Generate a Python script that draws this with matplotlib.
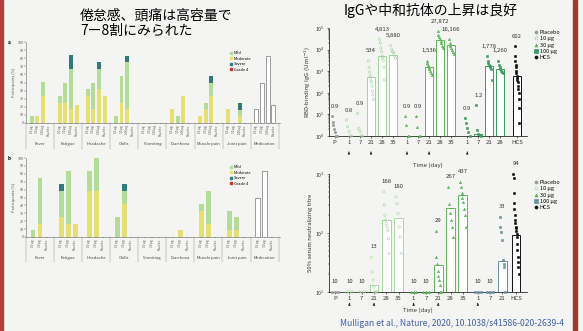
import numpy as np
import matplotlib
matplotlib.use('Agg')
import matplotlib.pyplot as plt
from matplotlib.lines import Line2D

plt.rcParams['font.family'] = ['Noto Sans CJK JP', 'DejaVu Sans']

# ---- data: reactogenicity (percent of participants) ----
groups = ['Fever', 'Fatigue', 'Headache', 'Chills', 'Vomiting', 'Diarrhoea',
          'Muscle pain', 'Joint pain', 'Medication']
doses_a = ['10 µg', '30 µg', '100 µg', 'Placebo']
doses_b = ['10 µg', '30 µg', 'Placebo']

# panel a (after dose 1), 4 bars per group, symptoms only (first 8 groups)
a_moderate = [0, 8.3, 33.3, 0,  25, 25, 16.7, 22.2,  33.3, 16.7, 41.7, 33.3,  0, 25, 16.7, 0,
              0, 0, 0, 0,  16.7, 0, 33.3, 0,  8.3, 16.7, 33.3, 0,  16.7, 0, 8.3, 0]
a_mild = [8.3, 0, 16.7, 0,  8.3, 25, 50, 0,  8.3, 33.3, 25, 0,  8.3, 33.3, 58.3, 0,
          0, 0, 0, 0,  0, 8.3, 0, 0,  0, 8.3, 16.7, 0,  0, 0, 8.3, 0]
a_severe = [0, 0, 0, 0,  0, 0, 16.7, 0,  0, 0, 8.3, 0,  0, 0, 8.3, 0,
            0, 0, 0, 0,  0, 0, 0, 0,  0, 0, 8.3, 0,  0, 0, 8.3, 0]
a_medication = [16.7, 50, 83.3, 22.2]

# panel b (after dose 2), 3 bars per group
b_moderate = [0, 16.7, 0,  25, 16.7, 16.7,  58.3, 58.3, 0,  0, 41.7, 0,
              0, 0, 0,  0, 8.3, 0,  33.3, 16.7, 0,  8.3, 8.3, 0]
b_mild = [8.3, 58.3, 0,  33.3, 66.7, 0,  25, 41.7, 0,  25, 16.7, 0,
          0, 0, 0,  0, 0, 0,  8.3, 41.7, 0,  25, 16.7, 0]
b_severe = [0, 0, 0,  8.3, 0, 0,  0, 0, 0,  0, 8.3, 0,
            0, 0, 0,  0, 0, 0,  0, 0, 0,  0, 0, 0]
b_medication = [50, 83.3, 0]

# ---- data: antibody responses ----
igg_days = [['P'], ['1', '7', '21', '28', '35'], ['1', '7', '21', '28', '35'],
            ['1', '7', '21', '28'], ['HCS']]
igg_gmt = [[0.9], [0.8, 0.9, 534, 4813, 5880], [0.9, 0.9, 1536, 27872, 16166],
           [0.9, 1.2, 1778, 1260], [602]]
igg_labels = [['0.9'], ['0.8', '0.9', '534', '4,813', '5,880'],
              ['0.9', '0.9', '1,536', '27,872', '16,166'],
              ['0.9', '1.2', '1,778', '1,260'], ['602']]
igg_points = [
    [[8, 4.6, 3.2, 2.2, 1.6, 1, 1, 1]],
    [[5.5, 2.7, 1.6, 1, 1], [11, 2.2, 1.6, 1, 1],
     [3000, 1500, 900, 600, 400, 300, 200, 120, 80, 50],
     [30000, 20000, 12000, 8000, 5000, 4000, 3000, 1500, 400],
     [15000, 10000, 8000, 7000, 5000, 4000]],
    [[8, 3.2, 1, 1], [8, 2.7, 1, 1],
     [3000, 2500, 2000, 1500, 1200, 1000, 800, 700],
     [70000, 50000, 40000, 30000, 25000, 20000, 15000, 12000],
     [30000, 20000, 15000, 12000, 10000, 8000, 6000]],
    [[6.6, 3.9, 2.3, 1.6, 1], [27, 1.9, 1.3, 1.1, 1],
     [5000, 3000, 2500, 2000, 1800, 1500, 1200, 400],
     [3000, 2000, 1500, 1200, 1000, 900, 800]],
    [[14000, 5000, 3000, 2000, 1500, 1000, 800, 600, 500, 400, 300, 200,
      150, 100, 50, 20, 4]],
]

nt_days = [['P'], ['1', '7', '21', '28', '35'], ['1', '7', '21', '28', '35'],
           ['1', '7', '21'], ['HCS']]
nt_gmt = [[10], [10, 10, 13, 168, 180], [10, 10, 29, 267, 437], [10, 10, 33], [94]]
nt_labels = [['10'], ['10', '10', '13', '168', '180'], ['10', '10', '29', '267', '437'],
             ['10', '10', '33'], ['94']]
nt_points = [
    [[10, 10, 10]],
    [[10, 10, 10], [10, 10, 10], [39, 22, 16, 12, 10, 10, 10],
     [500, 300, 200, 165, 145, 127, 110, 80, 45],
     [410, 315, 215, 127, 86, 45]],
    [[10, 10, 10], [10, 10, 10], [110, 39, 30, 23, 19, 16, 13, 10, 10],
     [600, 315, 215, 165, 127, 86],
     [740, 600, 470, 385, 340, 260, 200, 127]],
    [[10, 10, 10], [10, 10, 10], [190, 127, 105, 75, 35, 30, 27, 10]],
    [[1000, 850, 470, 320, 260, 200, 165, 145, 127, 120, 110, 98, 86, 66,
      51, 39, 32, 27, 20]],
]

W, H = 583, 331
fig = plt.figure(figsize=(W / 100, H / 100), dpi=100, facecolor='#f4f4f2')


def box(x0, y0, x1, y1):
    return [x0 / W, 1 - y1 / H, (x1 - x0) / W, (y1 - y0) / H]


# slide decorations
fig.patches.append(plt.Rectangle((0, 0), 3 / W, 1, transform=fig.transFigure,
                                 color='#b0413a', zorder=0))
fig.patches.append(plt.Rectangle((573 / W, 0), 4 / W, 1, transform=fig.transFigure,
                                 color='#9c3b30', zorder=0))
fig.text(80 / W, 1 - 16 / H, '倦怠感、頭痛は高容量で', fontsize=10, va='center')
fig.text(80 / W, 1 - 31 / H, '7ー8割にみられた', fontsize=10, va='center')
fig.text(344 / W, 1 - 10 / H, 'IgGや中和抗体の上昇は良好', fontsize=10, va='center')
fig.text(340 / W, 1 - 323 / H, 'Mulligan et al., Nature, 2020, 10.1038/s41586-020-2639-4',
         fontsize=6.2, color='#4262a6', va='center')

c_mod, c_mild, c_sev, c_g4 = '#e6df74', '#b3dc98', '#2f7b7c', '#c0392b'


def bar_panel(rect, nd, moderate, mild, severe, medication, doses, letter, legend_y):
    ax = fig.add_axes(rect)
    ax.set_facecolor('none')
    step = nd + 1
    xs, xlab = [], []
    for g in range(len(groups)):
        for k in range(nd):
            xs.append(g * step + k)
            xlab.append(doses[k])
    xs = np.array(xs)
    ns = (len(groups) - 1) * nd
    xsym = xs[:ns]
    mod = np.array(moderate)
    mil = np.array(mild)
    sev = np.array(severe)
    ax.bar(xsym, mod, width=0.7, color=c_mod, lw=0)
    ax.bar(xsym, mil, bottom=mod, width=0.7, color=c_mild, lw=0)
    ax.bar(xsym, sev, bottom=mod + mil, width=0.7, color=c_sev, lw=0)
    ax.bar(xs[ns:], medication, width=0.7, facecolor='white', edgecolor='#777', lw=0.5)
    ax.set_ylim(0, 100)
    ax.set_xlim(-1, xs[-1] + 1.2)
    ax.set_yticks(range(0, 101, 10))
    ax.tick_params(axis='y', labelsize=2.6, length=1.2, width=0.3, pad=0.5, colors='#555')
    ax.set_xticks(xs)
    ax.set_xticklabels(xlab, rotation=90, fontsize=2.2, color='#555')
    ax.tick_params(axis='x', length=1, width=0.3, pad=0.5)
    for s in ['top', 'right']:
        ax.spines[s].set_visible(False)
    for s in ['left', 'bottom']:
        ax.spines[s].set_linewidth(0.4)
        ax.spines[s].set_color('#666')
    ax.set_ylabel('Participants (%)', fontsize=2.8, labelpad=1, color='#555')
    for g, name in enumerate(groups):
        ax.text(g * step + (nd - 1) / 2, -0.26, name, transform=ax.get_xaxis_transform(),
                ha='center', va='center', fontsize=3, color='#444')
        xl = g * step - 1
        ax.plot([xl, xl], [0, -0.32], transform=ax.get_xaxis_transform(), color='#888',
                lw=0.3, clip_on=False)
    xl = len(groups) * step - 1
    ax.plot([xl, xl], [0, -0.32], transform=ax.get_xaxis_transform(), color='#888',
            lw=0.3, clip_on=False)
    ax.text(-0.06, 1.0, letter, transform=ax.transAxes, fontsize=3.5, fontweight='bold',
            ha='right', va='center')
    handles = [Line2D([], [], marker='s', ls='', color=c, markersize=1.6)
               for c in [c_mild, c_mod, c_sev, c_g4]]
    fig.legend(handles, ['Mild', 'Moderate', 'Severe', 'Grade 4'],
               loc='upper left', bbox_to_anchor=(228 / W, 1 - legend_y / H),
               fontsize=2.8, frameon=False, handlelength=0.6, handletextpad=0.4,
               labelspacing=0.4, borderpad=0)
    return ax


bar_panel(box(26, 42, 280, 123), 4, a_moderate, a_mild, a_severe, a_medication,
          doses_a, 'a', 49)
bar_panel(box(26, 158, 280, 237), 3, b_moderate, b_mild, b_severe, b_medication,
          doses_b, 'b', 163)

col_top = ['#9a9a9a', '#9fd49a', '#5dba5a', '#3c9a5e', '#111111']
col_bot = ['#9a9a9a', '#a8d8a2', '#5dba5a', '#6a8fa0', '#111111']
markers = ['o', 'o', '^', 's', 'o']
ser_names = ['Placebo', '10 µg', '30 µg', '100 µg', 'HCS']


def ab_panel(rect, days, gmt, labels, points, starts, lo, hi, cols, ylabel, fac,
             legend_y, arrows_y, time_y, time_x):
    ax = fig.add_axes(rect)
    ax.set_facecolor('none')
    ax.set_yscale('log')
    xt, xl = [], []
    arrows = []
    for gi in range(len(days)):
        c = cols[gi]
        for k in range(len(days[gi])):
            x = starts[gi] + k
            xt.append(x)
            xl.append(days[gi][k])
            v = gmt[gi][k]
            if v > lo:
                ax.bar(x, v - lo, bottom=lo, width=0.72, facecolor='white',
                       edgecolor=c, lw=0.7, zorder=1)
            pts = np.array(points[gi][k])
            n = len(pts)
            jit = np.linspace(-0.22, 0.22, n) if n > 1 else np.zeros(1)
            face = 'none' if gi == 1 else c
            ax.scatter(x + jit, pts, s=3, marker=markers[gi], facecolors=face,
                       edgecolors=c, linewidths=0.4, zorder=3, clip_on=False)
            ax.text(x, max(pts.max(), v) * fac, labels[gi][k], ha='center',
                    va='bottom', fontsize=4.3, color='#333', clip_on=False)
            if gi in (1, 2) and days[gi][k] in ('1', '21'):
                arrows.append(x)
            if gi == 3 and days[gi][k] == '1':
                arrows.append(x)
    ax.set_ylim(lo, hi)
    ax.set_xlim(-0.5, starts[-1] + 0.9)
    ax.set_xticks(xt)
    ax.set_xticklabels(xl, fontsize=4.3, color='#333')
    ax.tick_params(axis='x', length=1.5, width=0.4, pad=1.2)
    ax.tick_params(axis='y', which='major', labelsize=3.8, length=1.8, width=0.4,
                   pad=1, colors='#333')
    ax.tick_params(axis='y', which='minor', length=1, width=0.3)
    for s in ['top', 'right']:
        ax.spines[s].set_visible(False)
    for s in ['left', 'bottom']:
        ax.spines[s].set_linewidth(0.5)
        ax.spines[s].set_linestyle((0, (2, 1)))
    ax.set_ylabel(ylabel, fontsize=4.3, labelpad=2, color='#333')
    for x in arrows:
        ax.annotate('', xy=(x, arrows_y), xytext=(x, arrows_y - 0.055),
                    xycoords=ax.get_xaxis_transform(),
                    arrowprops=dict(arrowstyle='-|>', lw=0.5, color='#222',
                                    mutation_scale=3))
    ax.text(time_x, time_y, 'Time (day)', transform=ax.transAxes, fontsize=4.3,
            ha='center', va='center', color='#333')
    handles = []
    for i in range(5):
        face = 'none' if i == 1 else cols[i]
        handles.append(Line2D([], [], marker=markers[i], ls='',
                              markerfacecolor=face, markeredgecolor=cols[i],
                              markersize=2.2, markeredgewidth=0.5))
    fig.legend(handles, ser_names, loc='upper left', bbox_to_anchor=(532 / W, 1 - legend_y / H),
               fontsize=4, frameon=False, handlelength=0.5, handletextpad=0.4,
               labelspacing=0.25, borderpad=0)
    return ax


ab_panel(box(329, 28, 527, 136), igg_days, igg_gmt, igg_labels, igg_points,
         [0, 1.3, 6.55, 12.0, 16.5], 1, 1e5, col_top,
         'RBD-binding IgG (U ml$^{-1}$)', 2.2, 27, -0.12, -0.27, 0.5)
ab_panel(box(329, 174, 527, 292), nt_days, nt_gmt, nt_labels, nt_points,
         [0, 1.16, 6.38, 11.6, 14.7], 10, 1000, col_bot,
         '50% serum neutralizing titre', 1.35, 177, -0.07, -0.155, 0.45)

fig.savefig('out.png', dpi=100, facecolor=fig.get_facecolor())
